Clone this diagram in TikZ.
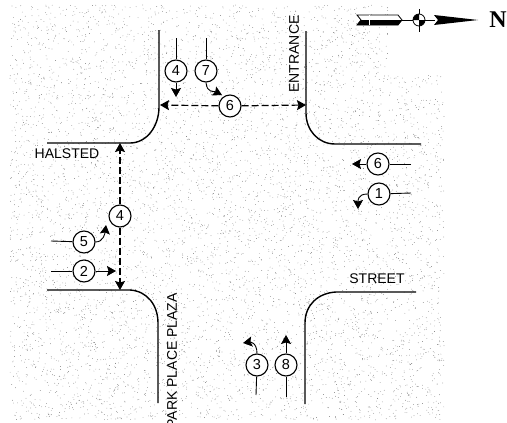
\documentclass[tikz,border=0pt]{standalone}
\usepackage{fontspec}
\setmainfont{Liberation Sans}
\newfontfamily\northfont{Liberation Serif}
\usetikzlibrary{arrows.meta}
\tikzset{
	curb/.style={line width=1.4pt},
	phase/.style={circle, draw, line width=1.1pt, fill=white, minimum size=22pt, inner sep=0pt, font=\fontsize{14.5}{14.5}\selectfont},
	feed/.style={line width=0.9pt},
	move/.style={line width=0.9pt, -{Stealth[length=9pt, width=10pt, inset=1.5pt]}},
	ped/.style={line width=1.2pt, dash pattern=on 7pt off 3pt, -{Stealth[length=9pt, width=10pt, inset=1.5pt]}},
	street/.style={font=\fontsize{14}{14}\selectfont, inner sep=0pt}
}
\begin{document}
\begin{tikzpicture}[x=1pt, y=-1pt]
		\useasboundingbox (0, 0) rectangle (507, 423);
		\pgfmathsetseed{42}
		% stipple
		\foreach \i in {1, ..., 7000}
			{
				\pgfmathsetmacro\px{10 + 434*rnd}
				\pgfmathsetmacro\py{5 + 415*rnd}
				\pgfmathparse{(\px > 388 && \py < 75) ? 0 : 1}
				\ifnum\pgfmathresult=1
					\fill[black!60] (\px, \py) circle (0.35);
				\fi
			}
		% curbs
		\draw[curb] (47, 143) -- (130, 143) .. controls (147, 143) and (159, 126) .. (159, 107) -- (159, 30);
		\draw[curb] (306, 31) -- (306, 113) .. controls (306, 130) and (318, 144) .. (335, 144) -- (421, 144);
		\draw[curb] (47, 290) -- (130, 290) .. controls (147, 291) and (158, 305) .. (158, 323) -- (158, 403);
		\draw[curb] (416, 292) -- (336, 292) .. controls (318, 293) and (305, 305) .. (305, 323) -- (305, 404);
		% street names
		\node[street] (halsted) at (67, 154) {HALSTED};
		\node[street] (street) at (377, 279) {STREET};
		\node[street, rotate=90] (entrance) at (294, 54) {ENTRANCE};
		\node[street, rotate=90, anchor=east] (parkplace) at (172, 293) {PARK PLACE PLAZA};
		% phases
		\node[phase] (p4n) at (176, 71) {4};
		\node[phase] (p7) at (206, 71) {7};
		\node[phase] (p6n) at (230, 106) {6};
		\node[phase] (p6e) at (378, 164) {6};
		\node[phase] (p1) at (379, 194) {1};
		\node[phase] (p4w) at (120, 216) {4};
		\node[phase] (p5) at (84, 242) {5};
		\node[phase] (p2) at (84, 271) {2};
		\node[phase] (p3) at (257, 365) {3};
		\node[phase] (p8) at (286, 365) {8};
		% free ends
		\coordinate (s4n) at (176, 38);
		\coordinate (e4n) at (176, 97);
		\coordinate (s7) at (206, 38);
		\coordinate (e7) at (222, 95);
		\coordinate (e6w) at (160, 105);
		\coordinate (e6e) at (306, 105);
		\coordinate (s6e) at (411, 164);
		\coordinate (e6e2) at (352, 164);
		\coordinate (s1) at (411, 193);
		\coordinate (e1) at (358, 209);
		\coordinate (e4t) at (120, 143);
		\coordinate (e4b) at (120, 290);
		\coordinate (s5) at (51, 241);
		\coordinate (e5) at (106, 225);
		\coordinate (s2) at (51, 271);
		\coordinate (e2) at (116, 271);
		\coordinate (s3) at (256, 395);
		\coordinate (e3) at (243, 343);
		\coordinate (s8) at (286, 397);
		\coordinate (e8) at (286, 335);
		% movements
		\draw[feed] (s4n) -- (p4n);
		\draw[move] (p4n) -- (e4n);
		\draw[feed] (s7) -- (p7);
		\draw[move] (p7.south) .. controls +(1, 11) and +(-8, -4) .. (e7);
		\draw[ped] (p6n) -- (e6w);
		\draw[ped] (p6n) -- (e6e);
		\draw[feed] (s6e) -- (p6e);
		\draw[move] (p6e) -- (e6e2);
		\draw[feed] (s1) -- (p1);
		\draw[move] (p1.west) .. controls +(-10, 0) and +(0, -8) .. (e1);
		\draw[ped] (p4w) -- (e4t);
		\draw[ped] (p4w) -- (e4b);
		\draw[feed] (s5) -- (p5);
		\draw[move] (p5.east) .. controls +(8, 0) and +(-1, 8) .. (e5);
		\draw[feed] (s2) -- (p2);
		\draw[move] (p2) -- (e2);
		\draw[feed] (s3) -- (p3);
		\draw[move] (p3.north) .. controls +(0, -12) and +(6, -1) .. (e3);
		\draw[feed] (s8) -- (p8);
		\draw[move] (p8) -- (e8);
		% north arrow
		\coordinate (nhub) at (419, 20);
		\draw[line width=0.8pt, fill=white] (357, 15) -- (398, 15) -- (402, 20) -- (398, 25) -- (357, 25) -- (361, 20) -- cycle;
		\fill (361, 20) -- (402, 20) -- (398, 25) -- (357, 25) -- cycle;
		\draw[white, line width=0.7pt] (369, 15) -- (369, 25);
		\draw[line width=0.8pt] (402, 20) -- (435, 20);
		\draw[line width=0.8pt] (419, 9) -- (419, 32);
		\draw[line width=0.8pt, fill=white] (nhub) circle (6);
		\fill (nhub) -- (425, 20) arc (0:90:6) -- cycle;
		\fill (nhub) -- (413, 20) arc (180:270:6) -- cycle;
		\fill (434, 15) -- (478, 20) -- (434, 25) -- (438, 20) -- cycle;
		\node[inner sep=0pt, font=\northfont\bfseries\fontsize{24}{24}\selectfont] (north) at (498, 20) {N};
	\end{tikzpicture}
\end{document}
